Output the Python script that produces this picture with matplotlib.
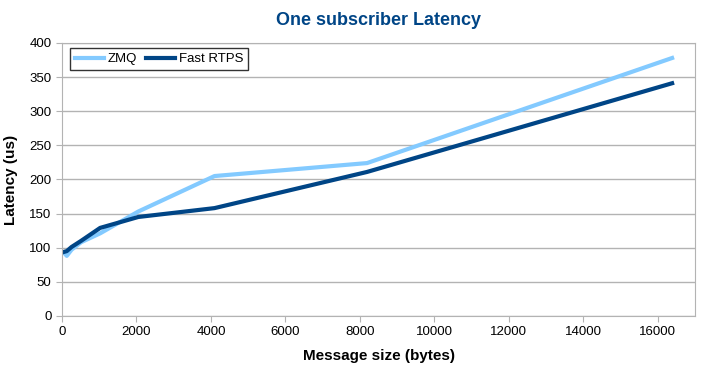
import matplotlib
matplotlib.use('Agg')
import matplotlib.pyplot as plt

plt.rcParams['font.family'] = ['Liberation Sans', 'DejaVu Sans']

# message sizes (bytes)
sizes = [64, 128, 256, 512, 1024, 2048, 4096, 8192, 16384]
zmq = [92, 88, 97, 108, 121, 153, 205, 224, 378]
fastrtps = [94, 95, 101, 110, 129, 145, 158, 211, 341]

zmqColor = '#83caff'
rtpsColor = '#004586'
gridColor = '#b3b3b3'

fig = plt.figure(figsize=(7.21, 3.77), dpi=100)
ax = fig.add_axes([0.086, 0.162, 0.878, 0.724])

ax.plot(sizes, zmq, color=zmqColor, lw=3, label='ZMQ', solid_joinstyle='round')
ax.plot(sizes, fastrtps, color=rtpsColor, lw=3, label='Fast RTPS', solid_joinstyle='round')

ax.set_xlim(0, 17000)
ax.set_ylim(0, 400)
ax.set_xticks(range(0, 16001, 2000))
ax.set_yticks(range(0, 401, 50))
ax.grid(axis='y', color=gridColor, lw=1)
ax.set_axisbelow(True)
for s in ax.spines.values():
    s.set_color(gridColor)
ax.tick_params(colors=gridColor, labelcolor='black', labelsize=9.5, length=4, direction='out')

ax.set_xlabel('Message size (bytes)', fontsize=11, fontweight='bold', labelpad=8)
ax.set_ylabel('Latency (us)', fontsize=11, fontweight='bold', labelpad=8)
ax.set_title('One subscriber Latency', fontsize=13, fontweight='bold', color=rtpsColor, pad=13)

leg = ax.legend(loc='upper left', ncol=2, fontsize=9.5, frameon=True, fancybox=False,
                edgecolor='black', handlelength=2.2, columnspacing=0.75, handletextpad=0.25,
                borderpad=0.35, borderaxespad=0, bbox_to_anchor=(0.013, 0.98))
leg.get_frame().set_linewidth(1)

fig.savefig('out.png', dpi=100)
